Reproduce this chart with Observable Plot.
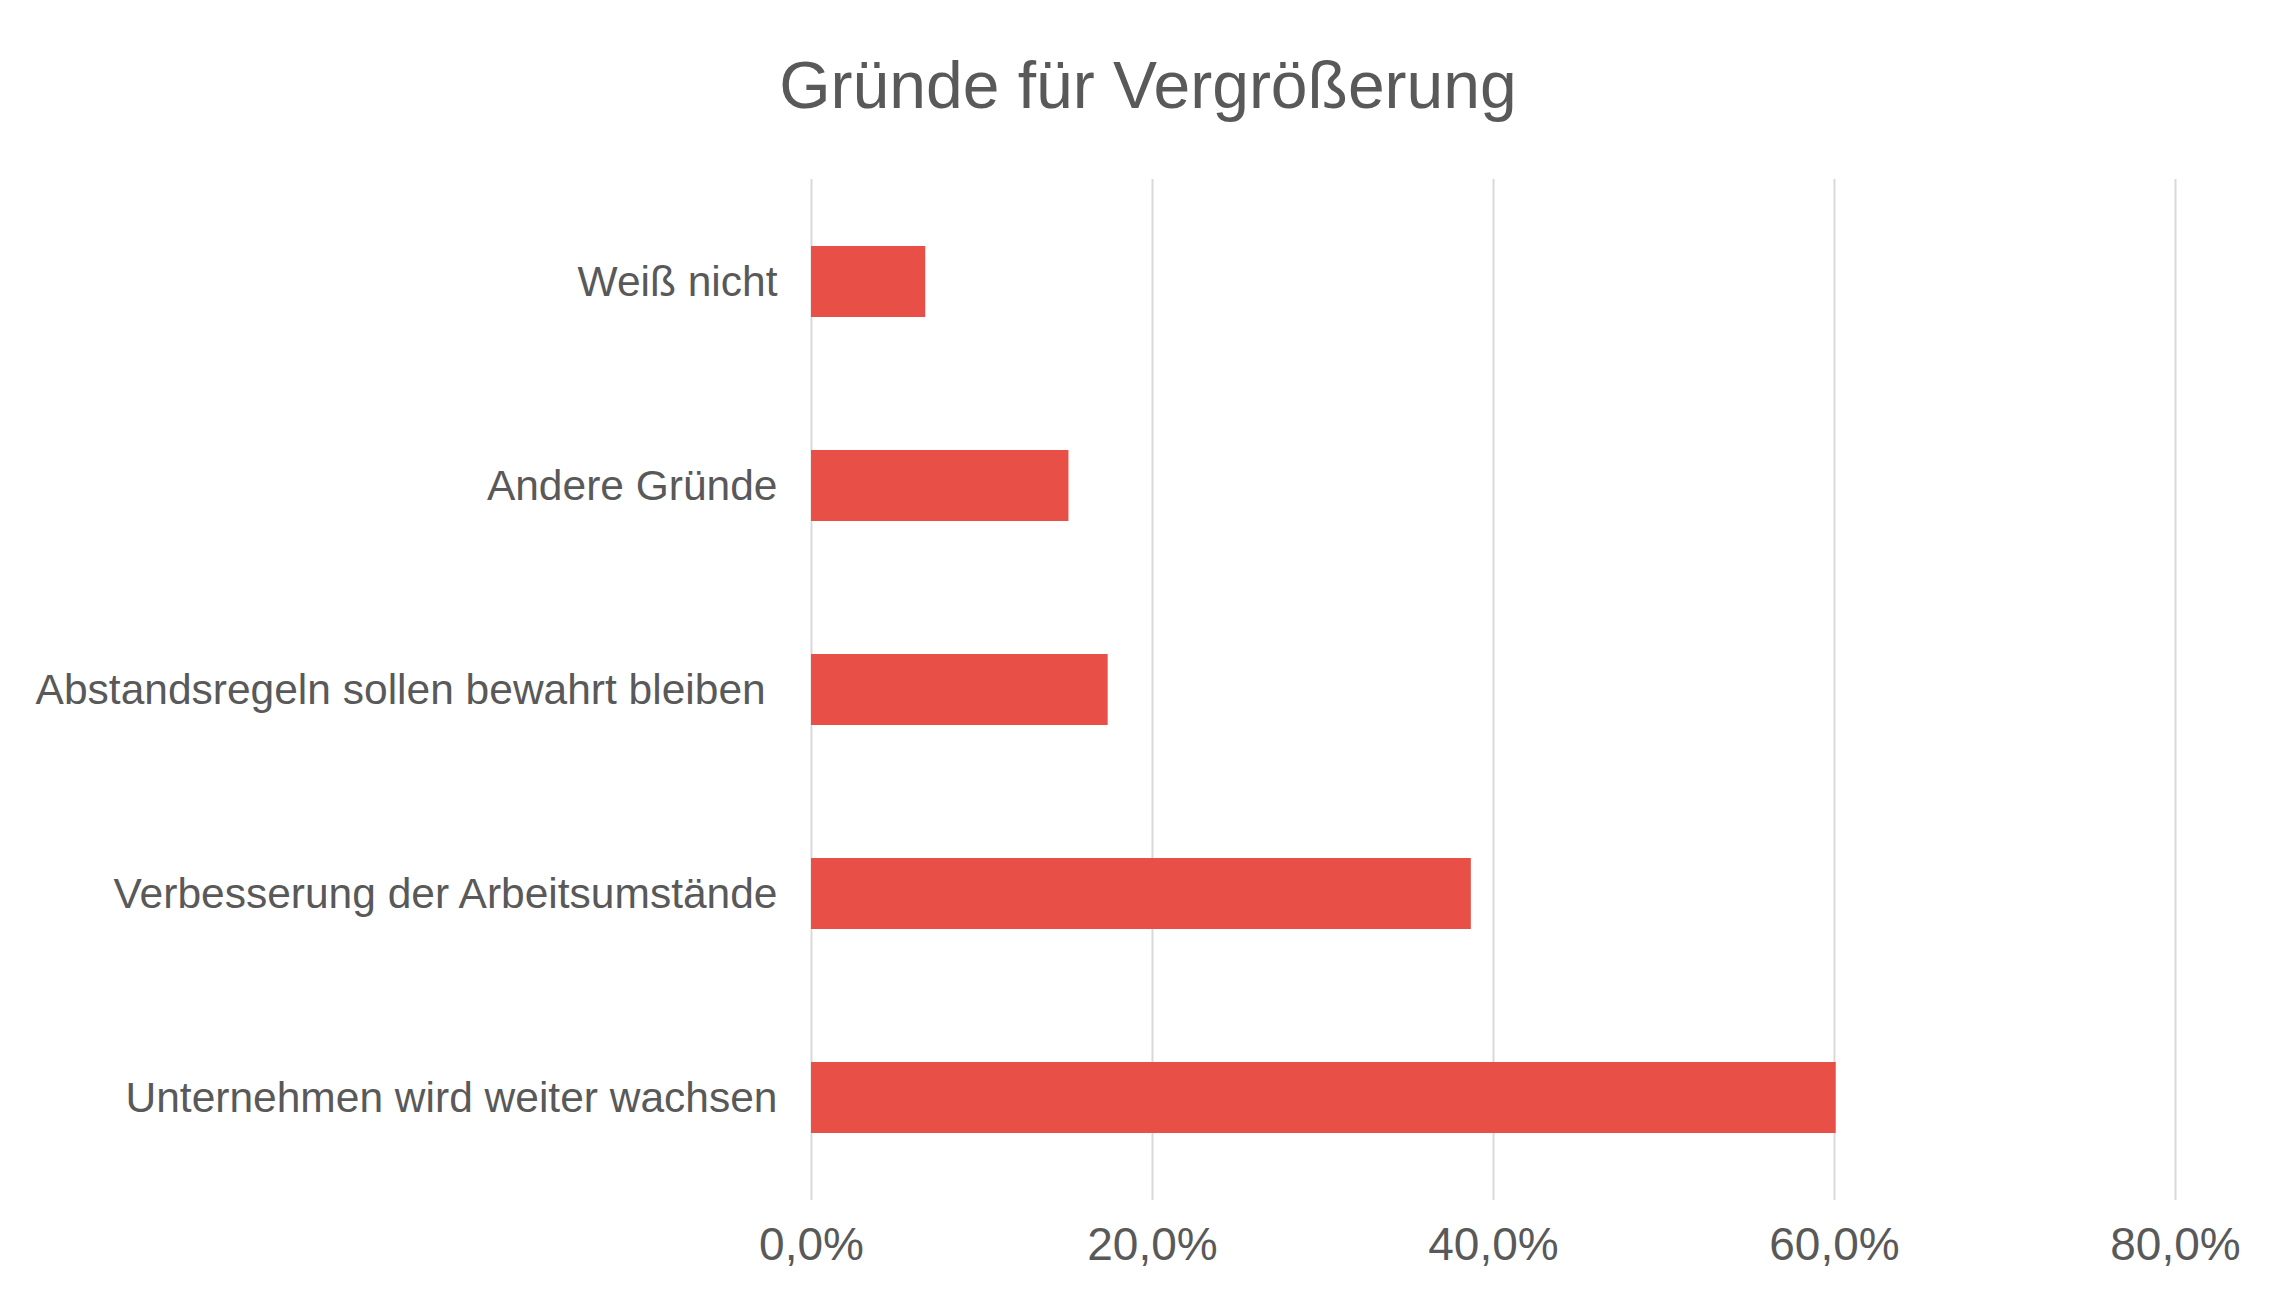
<!DOCTYPE html>
<html>
<head>
<meta charset="utf-8">
<script src="https://cdn.jsdelivr.net/npm/d3@7"></script>
<script src="https://cdn.jsdelivr.net/npm/@observablehq/plot@0.6"></script>
<style>
  html, body { margin: 0; padding: 0; background: #fff; }
  #wrap { width: 2296px; height: 1306px; position: relative; font-family: "Liberation Sans", Arial, sans-serif; }
  #title { height: 150px; line-height: 170px; text-align: center; font-size: 66px; color: #595959; }
  svg { display: block; }
</style>
</head>
<body>
<div id="wrap">
  <div id="title">Gründe für Vergrößerung</div>
  <div id="chart"></div>
</div>
<script>
const categories = [
  "Weiß nicht",
  "Andere Gründe",
  "Abstandsregeln sollen bewahrt bleiben ",
  "Verbesserung der Arbeitsumstände",
  "Unternehmen wird weiter wachsen"
];
const values = [6.7, 15.1, 17.4, 38.7, 60.1];
const xTicks = [0, 20, 40, 60, 80];

const data = categories.map((c, i) => ({category: c, value: values[i]}));
const fmt = d => d.toFixed(1).replace(".", ",") + "%";

const chart = Plot.plot({
  width: 2296,
  height: 1156,
  marginTop: 29,
  marginBottom: 106,
  marginLeft: 811,
  marginRight: 121,
  style: { fontFamily: '"Liberation Sans", Arial, sans-serif', color: "#595959", background: "#fff" },
  x: { domain: [0, 80], ticks: xTicks, tickFormat: fmt, label: null },
  y: { domain: categories, paddingInner: 0.65, paddingOuter: 0.325, label: null },
  marks: [
    Plot.gridX(xTicks, { stroke: "#d9d9d9", strokeOpacity: 1, strokeWidth: 2 }),
    Plot.barX(data, { x: "value", y: "category", fill: "#E84F47" }),
    Plot.axisX({ ticks: xTicks, tickFormat: fmt, tickSize: 0, tickPadding: 27, fontSize: 46, fill: "#595959", label: null }),
    Plot.axisY({ tickSize: 0, tickPadding: 34, fontSize: 42.5, fill: "#595959", label: null })
  ]
});
document.getElementById("chart").appendChild(chart);
</script>
</body>
</html>
